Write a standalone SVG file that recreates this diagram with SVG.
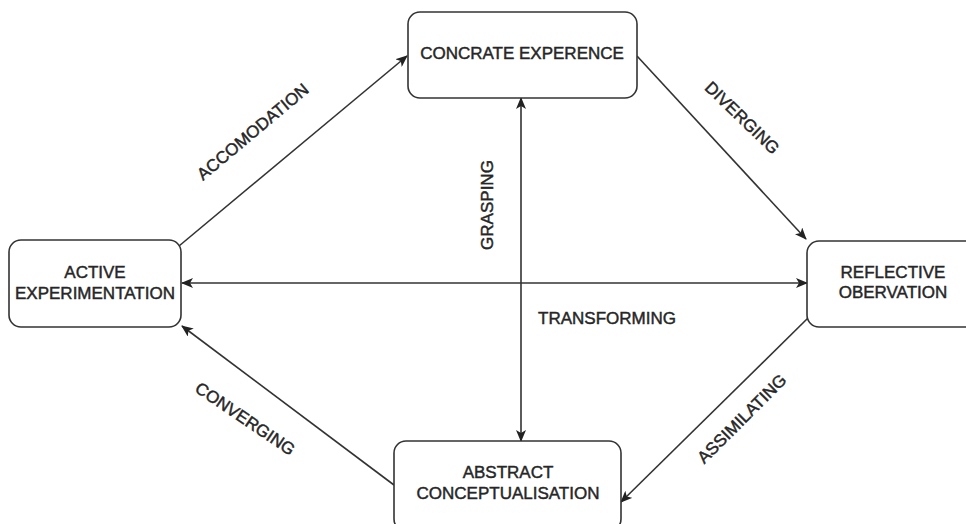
<svg xmlns="http://www.w3.org/2000/svg" width="966" height="524" viewBox="0 0 966 524">
<style>
.box{fill:#fff;stroke:#333;stroke-width:1.6}
.t{font-family:"Liberation Sans",Arial,sans-serif;font-size:17px;fill:#262626;stroke:#262626;stroke-width:0.45;text-anchor:middle;dominant-baseline:central}
.c{fill:none;stroke:#333;stroke-width:1.6}
</style>
<defs>
<marker id="a" viewBox="0 0 12 10" refX="11" refY="5" markerWidth="12" markerHeight="10" markerUnits="userSpaceOnUse" orient="auto-start-reverse">
<path d="M0,0 L12,5 L0,10 L3,5 z" fill="#222"/>
</marker>
</defs>
<rect width="966" height="524" fill="#fff"/>
<g id="connectors">
<line class="c" x1="179" y1="246" x2="407" y2="56" marker-end="url(#a)"/>
<line class="c" x1="637" y1="56" x2="806" y2="239" marker-end="url(#a)"/>
<line class="c" x1="808" y1="318" x2="621" y2="502" marker-end="url(#a)"/>
<line class="c" x1="394" y1="485" x2="182" y2="326" marker-end="url(#a)"/>
<line class="c" x1="182" y1="283" x2="807" y2="283" marker-start="url(#a)" marker-end="url(#a)"/>
<line class="c" x1="521" y1="98" x2="521" y2="441" marker-start="url(#a)" marker-end="url(#a)"/>
<text class="t" transform="translate(253,132) rotate(-40)">ACCOMODATION</text>
<text class="t" transform="translate(742,118) rotate(44)">DIVERGING</text>
<text class="t" transform="translate(245,419) rotate(34)">CONVERGING</text>
<text class="t" transform="translate(742,419) rotate(-45)">ASSIMILATING</text>
<text class="t" transform="translate(487,205) rotate(-90)">GRASPING</text>
<text class="t" x="607" y="318">TRANSFORMING</text>
</g>
<g id="concrete">
<rect class="box" x="408" y="12" width="229" height="86" rx="12"/>
<text class="t" x="522" y="53">CONCRATE EXPERENCE</text>
</g>
<g id="active">
<rect class="box" x="9" y="240" width="172" height="87" rx="12"/>
<text class="t" x="95" y="272">ACTIVE</text>
<text class="t" x="95" y="293">EXPERIMENTATION</text>
</g>
<g id="reflective">
<rect class="box" x="807" y="241" width="173" height="86" rx="12"/>
<text class="t" x="893" y="272">REFLECTIVE</text>
<text class="t" x="893" y="292">OBERVATION</text>
</g>
<g id="abstract">
<rect class="box" x="394" y="441" width="227" height="90" rx="12"/>
<text class="t" x="508" y="472">ABSTRACT</text>
<text class="t" x="508" y="493">CONCEPTUALISATION</text>
</g>
</svg>
